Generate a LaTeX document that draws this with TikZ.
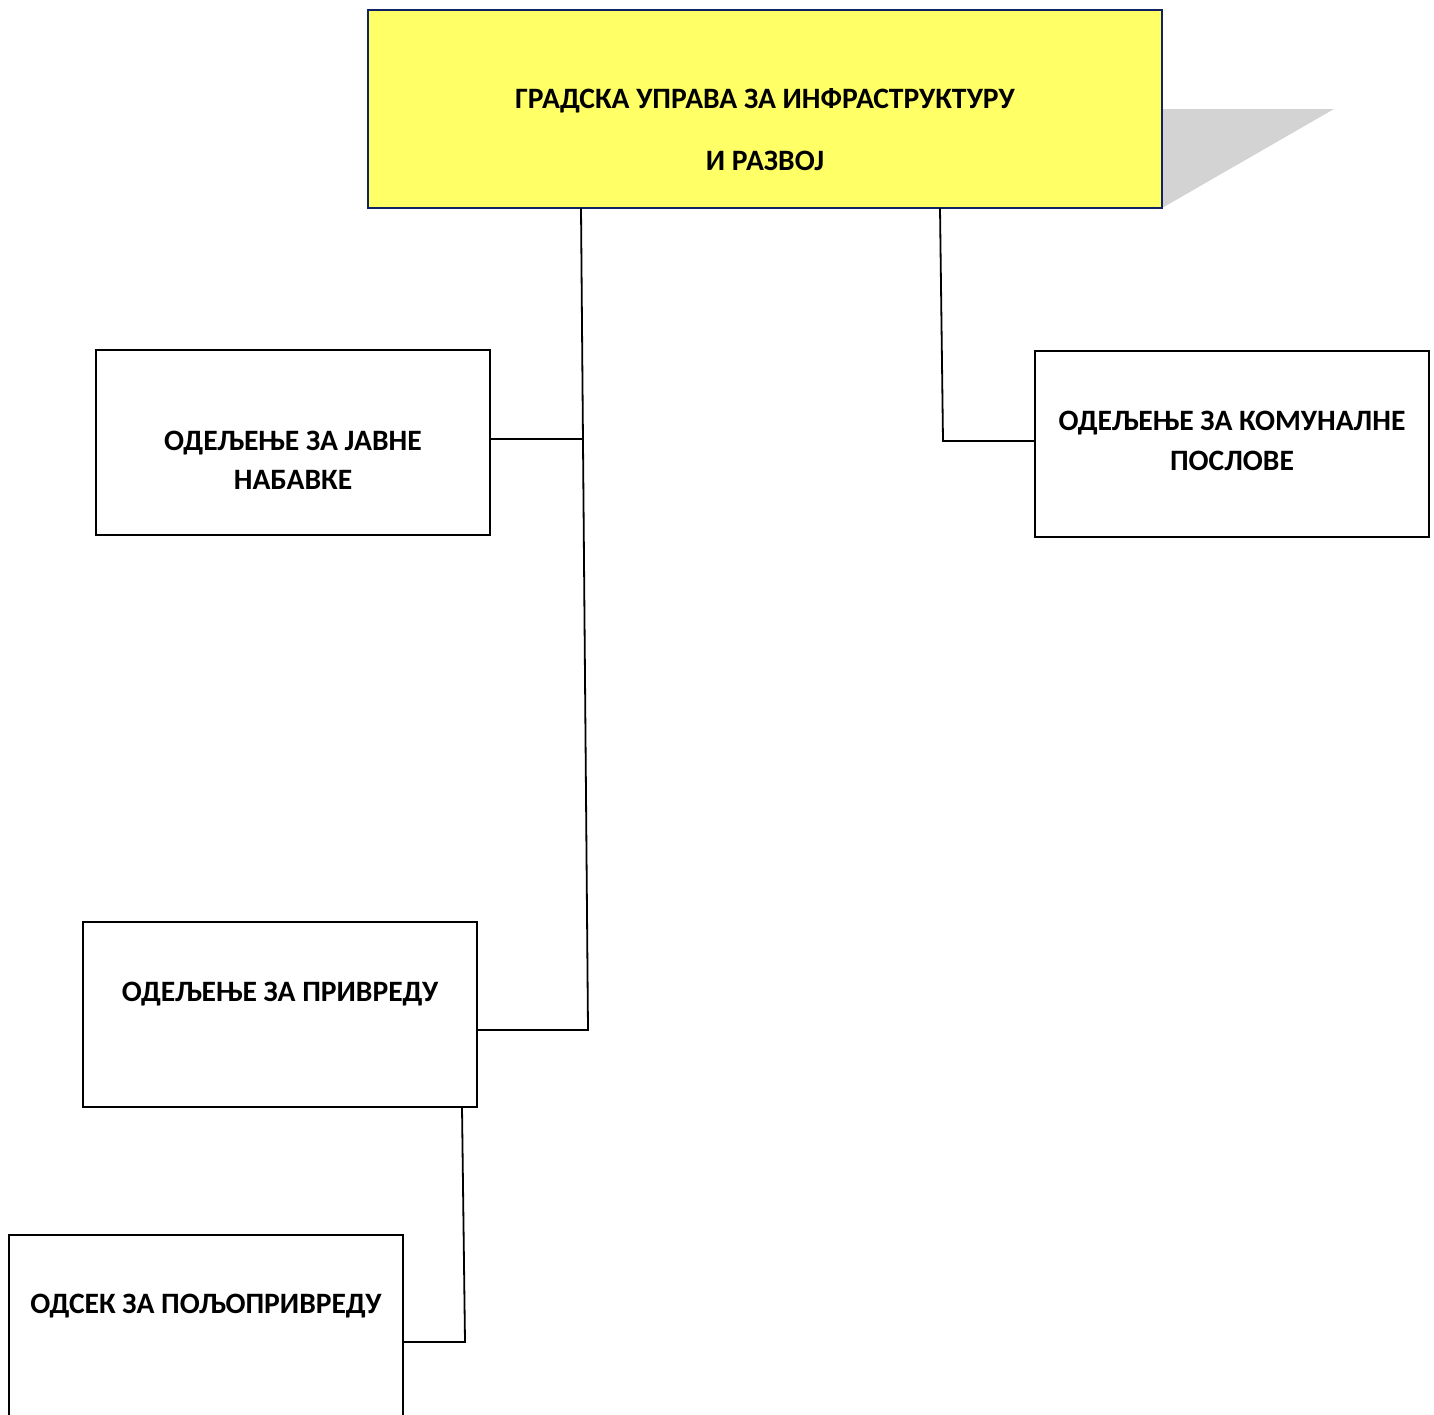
\documentclass[tikz,border=0pt]{standalone}
\usepackage{fontspec}
\setmainfont{Carlito}
\definecolor{topfill}{RGB}{255,255,102}
\definecolor{topline}{RGB}{15,35,100}
\definecolor{shadowgray}{RGB}{211,211,211}
\begin{document}
\begin{tikzpicture}[x=1pt,y=-1pt,
  box/.style={draw=black,line width=1.6pt,fill=white,rectangle,inner sep=0pt},
  lbl/.style={font=\fontsize{29.6}{39.5}\selectfont\bfseries,align=center,inner sep=0pt},
  conn/.style={draw=black,line width=1.8pt}]
\useasboundingbox (0,0) rectangle (1434,1414);
\clip (0,0) rectangle (1434,1414);
% shadow
\fill[shadowgray] (1162,109) -- (1334,109) -- (1162,208) -- cycle;
% top box
\node[draw=topline,fill=topfill,line width=2.6pt,minimum width=794pt,minimum height=198pt,inner sep=0pt] (top) at (765,109) {};
\node[lbl] (ttop1) at (765,101) {ГРАДСКА УПРАВА ЗА ИНФРАСТРУКТУРУ};
\node[lbl] (ttop2) at (765,161) {И РАЗВОЈ};
% boxes
\node[box,minimum width=394pt,minimum height=185pt] (b1) at (293,442.5) {};
\node[lbl] (t1) at (293,460.5) {ОДЕЉЕЊЕ ЗА ЈАВНЕ\\НАБАВКЕ};
\node[box,minimum width=394pt,minimum height=186pt] (b2) at (1232,444) {};
\node[lbl] (t2) at (1232,441) {ОДЕЉЕЊЕ ЗА КОМУНАЛНЕ\\ПОСЛОВЕ};
\node[box,minimum width=394pt,minimum height=185pt] (b3) at (280,1014.5) {};
\node[lbl] (t3) at (280,994) {ОДЕЉЕЊЕ ЗА ПРИВРЕДУ};
\node[box,minimum width=394pt,minimum height=200pt] (b4) at (206,1335) {};
\node[lbl] (t4) at (206,1306) {ОДСЕК ЗА ПОЉОПРИВРЕДУ};
% connectors
\coordinate (c1) at (581,208);
\coordinate (c1m) at (583,439);
\coordinate (c1b) at (588,1030);
\draw[conn] (c1) -- (c1b) -- (b3.east |- c1b);
\draw[conn] (b1.east |- c1m) -- (c1m);
\coordinate (c2) at (940,208);
\coordinate (c2b) at (943,441);
\draw[conn] (c2) -- (c2b) -- (b2.west |- c2b);
\coordinate (c3) at (462,1107);
\coordinate (c3b) at (465,1342);
\draw[conn] (c3) -- (c3b) -- (b4.east |- c3b);
\end{tikzpicture}
\end{document}
